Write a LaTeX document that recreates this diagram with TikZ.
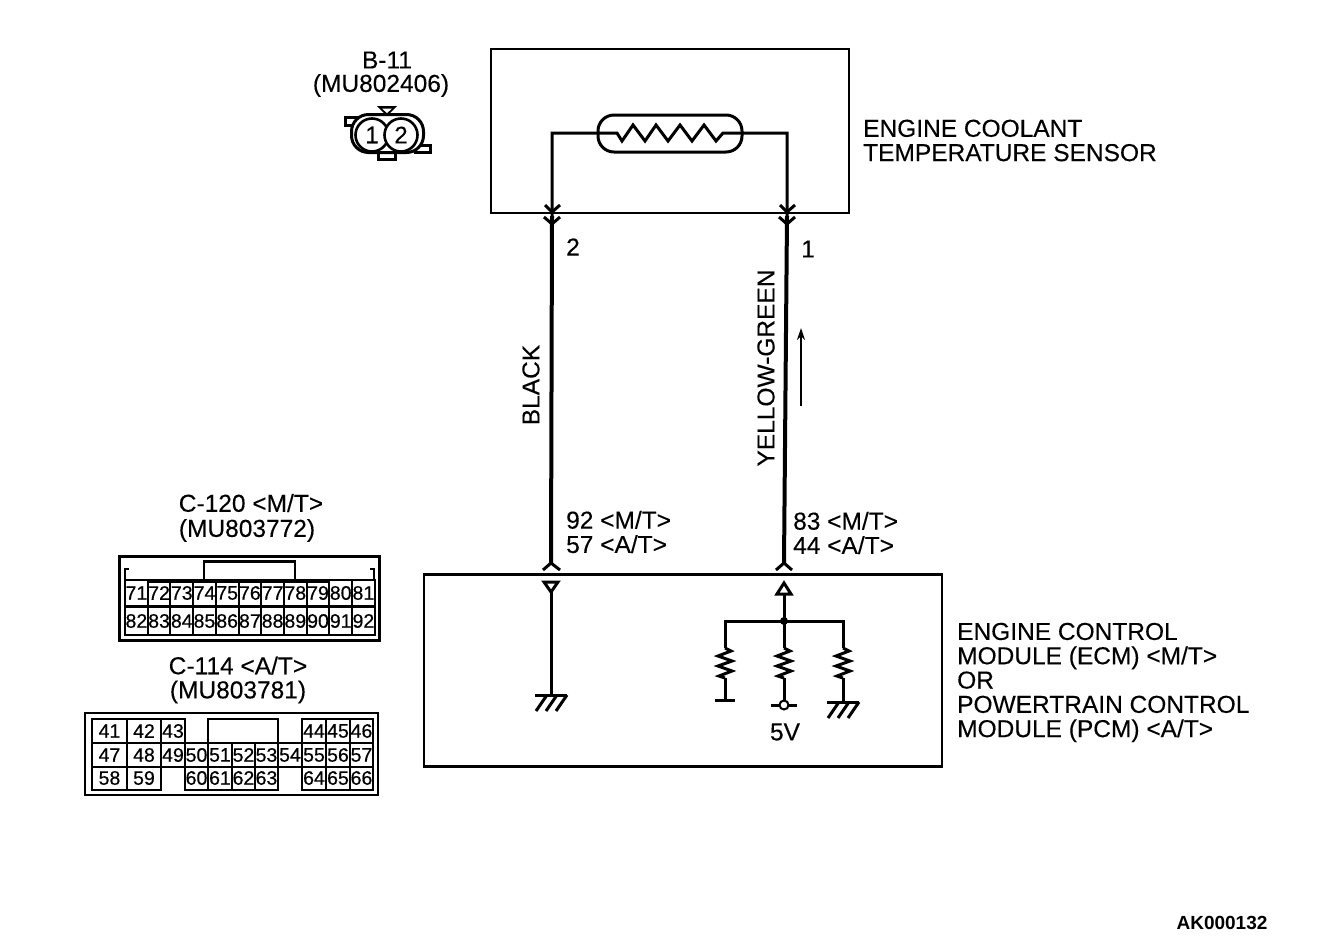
\documentclass[tikz,border=0pt]{standalone}
\usepackage{fontspec}
\setmainfont{Liberation Sans}
\newfontfamily\heavy[FakeBold=0.25]{Liberation Sans}
\newfontfamily\heavier[FakeBold=0.5]{Liberation Sans}
\usetikzlibrary{arrows.meta}
\tikzset{
  lbl/.style={inner sep=0pt,font=\heavy\fontsize{24.5}{24.3}\selectfont,align=left,text=black},
  cen/.style={lbl,align=center},
  box/.style={draw=black,line width=2.8pt},
  wire/.style={draw=black,line width=4pt},
  thin wire/.style={draw=black,line width=3pt},
  cellbox/.style={draw=black,line width=2pt,inner sep=0pt,font=\heavier\fontsize{19.5}{19}\selectfont},
  pics/vres/.style={code={
    \draw[thin wire,line join=miter] (0,0) -- (6,3) -- (-7,8) -- (7,13) -- (-7,18) -- (7,23) -- (-6,28) -- (0,30);
  }},
  pics/gnd/.style={code={
    \draw[thin wire] (-16,0) -- (16,0);
    \draw[thin wire] (-4,0) -- (-15,16) (6,0) -- (-5,16) (16,0) -- (5,16);
  }}
}
\begin{document}
\begin{tikzpicture}[x=1pt,y=-1pt]
\useasboundingbox (0,0) rectangle (1328,946);
% sensor box
\node[box,minimum width=358pt,minimum height=164pt,inner sep=0pt] (top) at (670,131) {};
\node[draw=black,line width=3pt,rounded corners=16pt,minimum width=144pt,minimum height=37pt,inner sep=0pt] (sens) at (670,133.5) {};
\coordinate (zl) at (617,133);
\coordinate (zr) at (723,133);
\coordinate (wl) at (552,133);
\coordinate (wr) at (787,133);
\coordinate (jl) at (552,216);
\coordinate (jr) at (787,216);
\draw[thin wire,line join=miter] (jl) -- (wl) -- (zl) -- (622,141) -- (633,125) -- (645,141) -- (656,125) -- (668,141) -- (680,125) -- (692,141) -- (704,125) -- (716,141) -- (zr) -- (wr) -- (jr);
\draw[thin wire] (545,205) -- (552,212) -- (560,205);
\draw[thin wire] (780,205) -- (787,212) -- (795,205);
\draw[thin wire] (544,217) -- (552,224) -- (560,217);
\draw[thin wire] (779,217) -- (787,224) -- (795,217);
% ECM box
\node[box,minimum width=518pt,minimum height=192pt,inner sep=0pt] (ecm) at (683,670.5) {};
\coordinate (pl) at (551,563);
\coordinate (pr) at (784,563);
\draw[wire] (jl) -- (pl);
\draw[wire] (jr) -- (pr);
\draw[thin wire] (543,570) -- (pl) -- (560,570);
\draw[thin wire] (776,570) -- (pr) -- (792,570);
% ECM left
\draw[thin wire,line join=miter] (544,582) -- (558,582) -- (551,592) -- cycle;
\coordinate (gl) at (551,695);
\draw[thin wire] (551,592) -- (gl);
\path (gl) pic {gnd};
% ECM right
\draw[thin wire,line join=miter] (777,594) -- (791,594) -- (784,583) -- cycle;
\coordinate (bus) at (784,621);
\draw[thin wire] (784,594) -- (bus);
\fill (bus) circle (4pt);
\coordinate (r1) at (725,648);
\coordinate (r2) at (784,648);
\coordinate (r3) at (843,648);
\draw[thin wire,line join=miter] (r1) -- (725,621) -- (843,621) -- (r3);
\draw[thin wire] (bus) -- (r2);
\path (r1) pic {vres};
\path (r2) pic {vres};
\path (r3) pic {vres};
\coordinate (e1) at (725,700);
\coordinate (e2) at (784,705);
\coordinate (e3) at (843,702);
\draw[thin wire] (725,678) -- (e1);
\draw[thin wire] (715,700) -- (735,700);
\draw[thin wire] (784,678) -- (e2);
\draw[thin wire] (771,705) -- (797,705);
\draw[draw=black,fill=white,line width=2pt] (e2) circle (4.5pt);
\draw[thin wire] (843,678) -- (e3);
\path (e3) pic {gnd};
% current arrow
\coordinate (a1) at (801,406);
\coordinate (a2) at (801,328);
\draw[draw=black,line width=2.4pt,-{Stealth[length=12pt,width=8pt]}] (a1) -- (a2);
% labels
\node[cen] (l1) at (387,60) {B-11};
\node[cen] (l2) at (381,85.5) {(MU802406)};
\node[lbl,anchor=west] (l3) at (863,140.5) {ENGINE COOLANT\\TEMPERATURE SENSOR};
\node[lbl] (l4) at (573,247) {2};
\node[lbl] (l5) at (808,249) {1};
\node[lbl,rotate=90] (l6) at (531,385) {BLACK};
\node[lbl,rotate=90] (l7) at (766,368) {YELLOW-GREEN};
\node[lbl,anchor=west] (l8) at (566,532) {92 <M/T>\\57 <A/T>};
\node[lbl,anchor=west] (l9) at (793,533) {83 <M/T>\\44 <A/T>};
\node[lbl,anchor=west] (l10) at (957,682.5) {ENGINE CONTROL\\MODULE (ECM) <M/T>\\OR\\POWERTRAIN CONTROL\\MODULE (PCM) <A/T>};
\node[cen] (l11) at (785,732) {5V};
\node[cen] (l12) at (251,503) {C-120 <M/T>};
\node[cen] (l13) at (247,530.5) {(MU803772)};
\node[cen] (l14) at (238,665.5) {C-114 <A/T>};
\node[cen] (l15) at (238,692) {(MU803781)};
\node[inner sep=0pt,font=\fontsize{19}{19}\selectfont\bfseries] (l16) at (1222,923) {AK000132};
% B-11 connector icon
\fill (377,106) -- (397,106) -- (387,116) -- cycle;
\fill[white] (382,108.5) -- (392,108.5) -- (387,113) -- cycle;
\draw[line width=3pt] (358,117) -- (345,117) -- (345,125) -- (353,125);
\draw[line width=3pt] (420,145) -- (430,145) -- (430,152) -- (414,152);
\draw[line width=3pt] (378,153) -- (378,159) -- (395,159) -- (395,153);
\node[draw=black,fill=white,line width=3pt,rounded corners=17pt,minimum width=72pt,minimum height=38pt,inner sep=0pt] (ic) at (387.5,133.5) {};
\node[draw=black,fill=white,circle,line width=2.6pt,minimum size=33pt,inner sep=0pt,font=\heavy\fontsize{24}{24}\selectfont] (p1) at (372,135) {1};
\node[draw=black,fill=white,circle,line width=2.6pt,minimum size=33pt,inner sep=0pt,font=\heavy\fontsize{24}{24}\selectfont] (p2) at (401,135) {2};
% C-120
\node[draw=black,line width=3pt,minimum width=260pt,minimum height=84pt,inner sep=0pt] (c120) at (249.5,598.5) {};
\node[draw=black,line width=2.4pt,minimum width=91pt,minimum height=19pt,inner sep=0pt] (c120n) at (249.5,571) {};
\draw[line width=2.4pt] (125,580) -- (125,569) -- (129,569);
\draw[line width=2.4pt] (374,580) -- (374,569) -- (370,569);
\foreach \n [count=\i from 0] in {71,72,...,81}
  \node[cellbox,minimum width=22.7pt,minimum height=26pt] (c\n) at ({136.4+22.7*\i},593) {\n};
\foreach \n [count=\i from 0] in {82,83,...,92}
  \node[cellbox,minimum width=22.7pt,minimum height=28pt] (c\n) at ({136.4+22.7*\i},621) {\n};
\draw[line width=3.6pt] (148,581) -- (330,581);
\draw[line width=3pt] (148,606.5) -- (330,606.5);
% C-114
\node[draw=black,line width=2.8pt,minimum width=293pt,minimum height=82pt,inner sep=0pt] (c114) at (231.5,754) {};
\foreach \n/\l/\r/\y/\h in {
  41/92/127/731/24,42/127/161/731/24,43/161/185/731/24,
  44/302/326/731/24,45/326/350/731/24,46/350/373/731/24,
  47/92/127/755/24,48/127/161/755/24,49/161/185/755/24,50/185/208/755/24,
  51/208/232/755/24,52/232/255/755/24,53/255/278/755/24,54/278/302/755/24,
  55/302/326/755/24,56/326/350/755/24,57/350/373/755/24,
  58/92/127/778/23,59/127/161/778/23,
  60/185/208/778/23,61/208/232/778/23,62/232/255/778/23,63/255/278/778/23,
  64/302/326/778/23,65/326/350/778/23,66/350/373/778/23}
  \node[cellbox,minimum width={(\r-\l)*1pt},minimum height={\h*1pt}] (c\n) at ({(\l+\r)/2},\y) {\n};
\node[draw=black,line width=2.4pt,minimum width=70pt,minimum height=24pt,inner sep=0pt] (c114n) at (243,731) {};
\end{tikzpicture}
\end{document}
